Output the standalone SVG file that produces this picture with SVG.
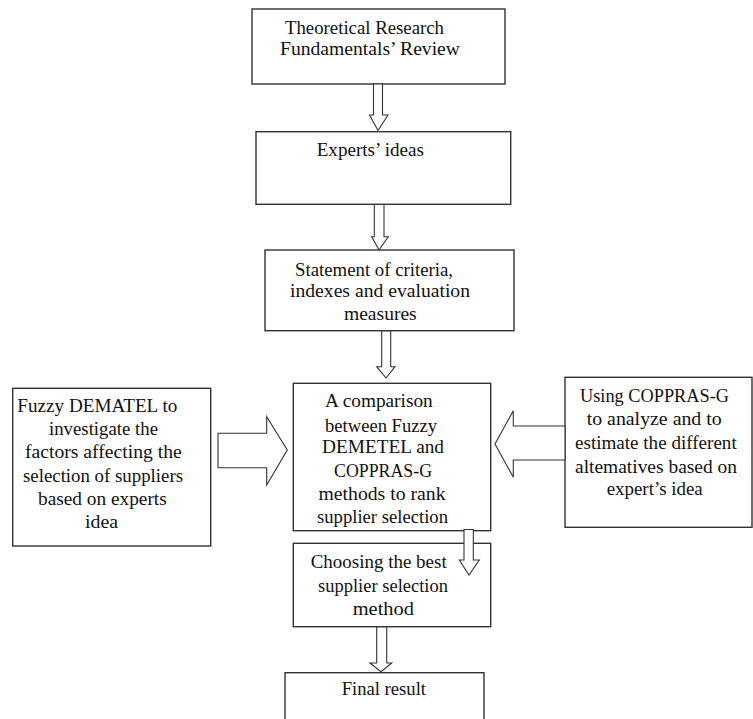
<svg xmlns="http://www.w3.org/2000/svg" width="753" height="719" viewBox="0 0 753 719">
<style>
.box{fill:#fff;stroke:#333;stroke-width:1.4}
.arr{fill:#fff;stroke:#333;stroke-width:1.1;stroke-linejoin:miter}
text{font-family:"Liberation Serif","Times New Roman",serif;font-size:18.5px;fill:#111}
</style>
<rect width="753" height="719" fill="#fff"/>
<g id="n1">
<rect class="box" x="252" y="9" width="253" height="75"/>
<text x="285" y="34" textLength="159" lengthAdjust="spacingAndGlyphs">Theoretical Research</text>
<text x="280" y="55" textLength="180" lengthAdjust="spacingAndGlyphs">Fundamentals’ Review</text>
</g>
<g id="n2">
<rect class="box" x="256" y="131.7" width="254.7" height="72.6"/>
<text x="316.7" y="156" textLength="107.3" lengthAdjust="spacingAndGlyphs">Experts’ ideas</text>
</g>
<g id="n3">
<rect class="box" x="265" y="250" width="249" height="80.7"/>
<text x="295" y="275.7" textLength="158" lengthAdjust="spacingAndGlyphs">Statement of criteria,</text>
<text x="290" y="297" textLength="180" lengthAdjust="spacingAndGlyphs">indexes and evaluation</text>
<text x="344" y="320" textLength="72.7" lengthAdjust="spacingAndGlyphs">measures</text>
</g>
<g id="n4">
<rect class="box" x="293.3" y="383.3" width="197.4" height="147.4"/>
<text x="325" y="406.7" textLength="107.7" lengthAdjust="spacingAndGlyphs">A comparison</text>
<text x="325" y="431.7" textLength="112" lengthAdjust="spacingAndGlyphs">between Fuzzy</text>
<text x="322" y="453.3" textLength="122" lengthAdjust="spacingAndGlyphs">DEMETEL  and</text>
<text x="334" y="476.7" textLength="98" lengthAdjust="spacingAndGlyphs">COPPRAS-G</text>
<text x="318.5" y="500" textLength="127" lengthAdjust="spacingAndGlyphs">methods to rank</text>
<text x="317" y="523.3" textLength="131" lengthAdjust="spacingAndGlyphs">supplier selection</text>
</g>
<g id="n5">
<rect class="box" x="12.7" y="388.3" width="198" height="157.7"/>
<text x="17.3" y="411.7" textLength="160" lengthAdjust="spacingAndGlyphs">Fuzzy DEMATEL to</text>
<text x="49" y="435" textLength="109" lengthAdjust="spacingAndGlyphs">investigate the</text>
<text x="25" y="458.3" textLength="156.7" lengthAdjust="spacingAndGlyphs">factors affecting the</text>
<text x="23" y="481.7" textLength="160" lengthAdjust="spacingAndGlyphs">selection of suppliers</text>
<text x="38" y="505" textLength="128.7" lengthAdjust="spacingAndGlyphs">based on experts</text>
<text x="85" y="528.3" textLength="33" lengthAdjust="spacingAndGlyphs">idea</text>
</g>
<g id="n6">
<rect class="box" x="565" y="377.3" width="187" height="150"/>
<text x="580" y="401.7" textLength="149" lengthAdjust="spacingAndGlyphs">Using  COPPRAS-G</text>
<text x="586.7" y="425" textLength="135" lengthAdjust="spacingAndGlyphs">to analyze and to</text>
<text x="575" y="449.3" textLength="161.7" lengthAdjust="spacingAndGlyphs">estimate the different</text>
<text x="575" y="472.7" textLength="162" lengthAdjust="spacingAndGlyphs">altematives based on</text>
<text x="606.7" y="495" textLength="96" lengthAdjust="spacingAndGlyphs">expert’s idea</text>
</g>
<g id="n7">
<rect class="box" x="293.3" y="543.3" width="197.4" height="83.4"/>
<text x="310.7" y="568.3" textLength="136" lengthAdjust="spacingAndGlyphs">Choosing the best</text>
<text x="318" y="591.7" textLength="130" lengthAdjust="spacingAndGlyphs">supplier selection</text>
<text x="352.7" y="615" textLength="61.3" lengthAdjust="spacingAndGlyphs">method</text>
</g>
<g id="n8">
<rect class="box" x="285" y="672.7" width="199" height="60"/>
<text x="341.7" y="695" textLength="84.3" lengthAdjust="spacingAndGlyphs">Final result</text>
</g>
<g id="connectors">
<path class="arr" d="M373.5,84 L382.5,84 L382.5,115 L388,115 L378,130.5 L369.5,115 L373.5,115 Z"/>
<path class="arr" d="M374.3,204.5 L384,204.5 L384,236.7 L388.3,236.7 L379,250 L371.7,236.7 L374.3,236.7 Z"/>
<path class="arr" d="M381.7,331 L390.7,331 L390.7,366.7 L395,366.7 L386,378 L376.7,366.7 L381.7,366.7 Z"/>
<path class="arr" d="M218,433.3 L266.7,433.3 L266.7,416.7 L287.3,450 L266.7,485 L266.7,467.7 L218,467.7 Z"/>
<path class="arr" d="M565,426 L513.3,426 L513.3,410.7 L495,444 L513.3,477.3 L513.3,460 L565,460 Z"/>
<path class="arr" d="M464,529.5 L473.3,529.5 L473.3,560 L479.3,560 L469,575 L459.3,560 L464,560 Z"/>
<path class="arr" d="M376.7,627 L386.7,627 L386.7,663 L391.7,663 L381,671.7 L370,663 L376.7,663 Z"/>
</g>
</svg>
